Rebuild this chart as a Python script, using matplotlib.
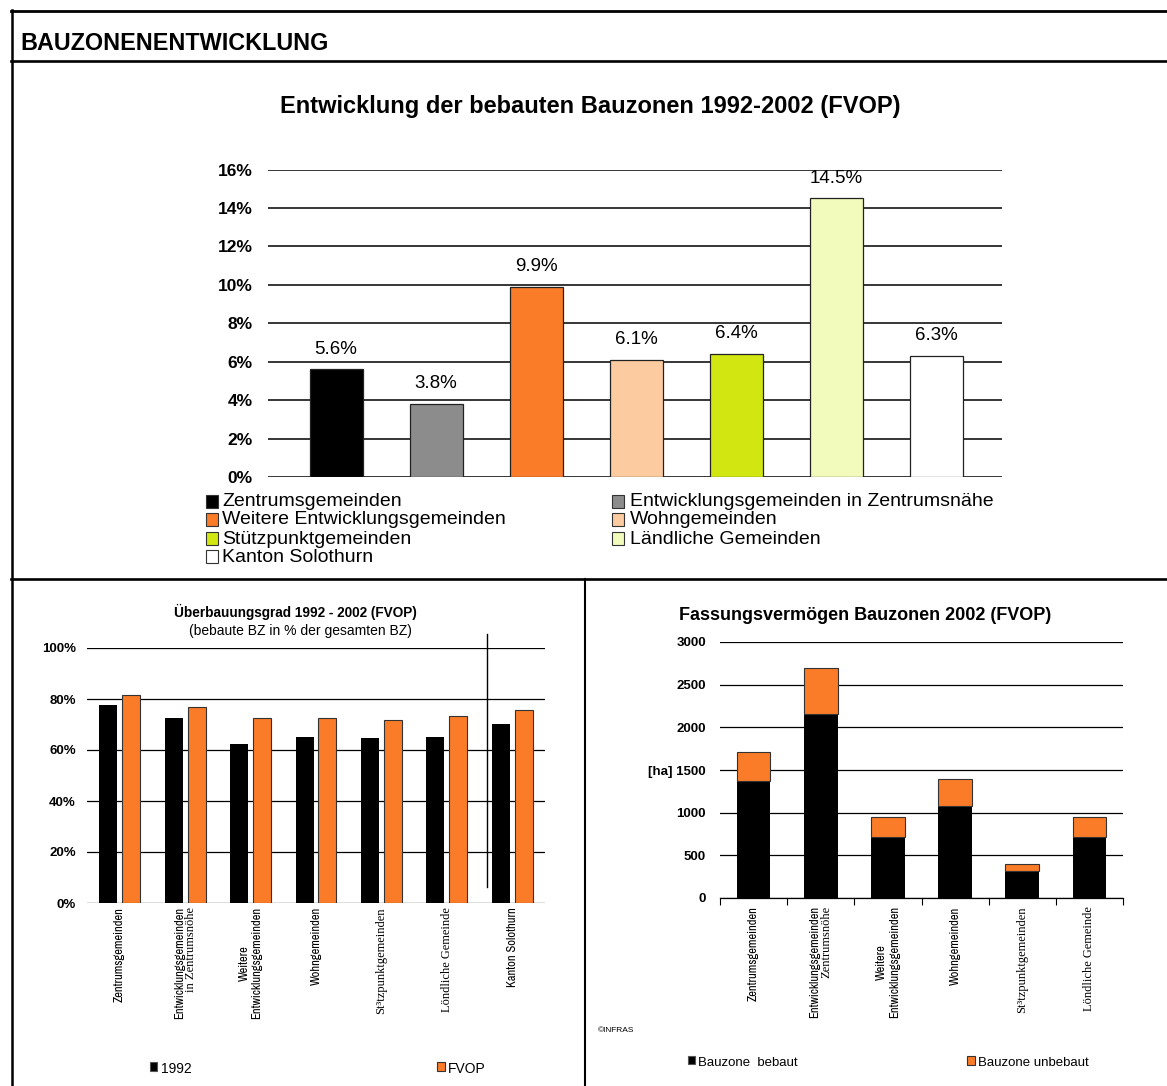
import numpy as np
import matplotlib.pyplot as plt
from matplotlib import font_manager
from matplotlib.patches import Rectangle

W, H = 1167, 1086

# Entwicklung der bebauten Bauzonen 1992-2002 (in %)
gruppen = ["Zentrumsgemeinden", "Entwicklungsgemeinden in Zentrumsnähe",
           "Weitere Entwicklungsgemeinden", "Wohngemeinden",
           "Stützpunktgemeinden", "Ländliche Gemeinden", "Kanton Solothurn"]
entwicklung = [5.6, 3.8, 9.9, 6.1, 6.4, 14.5, 6.3]
farben = ["#000000", "#8c8c8c", "#fa7b28", "#fccba0", "#d2e612", "#f2fbbb", "#ffffff"]

# Überbauungsgrad (bebaute BZ in % der gesamten BZ)
ueb_ticks = [["Zentrumsgemeinden"], ["Entwicklungsgemeinden", "in Zentrumsnöhe"],
             ["Weitere\nEntwicklungsgemeinden"], ["Wohngemeinden"],
             ["St³tzpunktgemeinden"], ["Löndliche Gemeinde"], ["Kanton Solothurn"]]
ueb_1992 = [77.6, 72.6, 62.3, 65.1, 64.7, 65.1, 70.2]
ueb_fvop = [81.7, 76.7, 72.5, 72.5, 71.7, 73.2, 75.6]

# Fassungsvermögen Bauzonen 2002 [ha]
fass_ticks = [["Zentrumsgemeinden"], ["Entwicklungsgemeinden", "Zentrumsnöhe"],
              ["Weitere\nEntwicklungsgemeinden"], ["Wohngemeinden"],
              ["St³tzpunktgemeinden"], ["Löndliche Gemeinde"]]
fass_bebaut = [1375, 2155, 717, 1075, 312, 717]
fass_unbebaut = [335, 545, 234, 324, 85, 234]

serif_zeilen = {"in Zentrumsnöhe", "Zentrumsnöhe", "St³tzpunktgemeinden", "Löndliche Gemeinde"}

orange = "#fa7b28"

names = sorted({f.name for f in font_manager.fontManager.ttflist})
schmal = [n for n in names if "Narrow" in n or "Condensed" in n]
if schmal:
    narrow, narrow_size = schmal[0], 9
else:
    narrow, narrow_size = "Liberation Sans", 7.2
serif = "Liberation Serif" if "Liberation Serif" in names else "DejaVu Serif"

plt.rcParams["font.family"] = ["Liberation Sans", "DejaVu Sans"]

fig = plt.figure(figsize=(W / 100, H / 100), dpi=100)


def px_ax(x0, y0, x1, y1):
    a = fig.add_axes([x0 / W, 1 - y1 / H, (x1 - x0) / W, (y1 - y0) / H])
    a.patch.set_visible(False)
    return a


# Rahmen und Texte in Pixelkoordinaten
bg = fig.add_axes([0, 0, 1, 1])
bg.set_xlim(0, W)
bg.set_ylim(H, 0)
bg.axis("off")
bg.plot([12, 12], [10, H], color="black", lw=1.8)
bg.plot([11, W], [10.5, 10.5], color="black", lw=2.0)
bg.plot([11, W], [61, 61], color="black", lw=1.9)
bg.plot([11, W], [579, 579], color="black", lw=1.9)
bg.plot([585, 585], [579, H], color="black", lw=1.5)
bg.text(20, 44, "BAUZONENENTWICKLUNG", fontsize=16.8, fontweight="bold", va="center")
bg.text(590, 107, "Entwicklung der bebauten Bauzonen 1992-2002 (FVOP)",
        fontsize=17, fontweight="bold", ha="center", va="center")

# Legende oben (zeilenweise)
leg_x = [(206, 222), (612, 630)]
leg_y = [502, 520, 539, 557]
for i, (name, col) in enumerate(zip(gruppen, farben)):
    sx, tx = leg_x[i % 2]
    y = leg_y[i // 2]
    bg.add_patch(Rectangle((sx, y - 7), 12, 13, facecolor=col, edgecolor="#333333", lw=0.8))
    bg.text(tx, y, name, fontsize=14, va="center")

# ---- Oberes Diagramm ----
ax1 = px_ax(268, 169.5, 1002, 477)
x1 = np.arange(len(gruppen))
ax1.bar(x1, entwicklung, width=0.53, color=farben, edgecolor="#222222", linewidth=0.9, zorder=3)
ax1.set_xlim(-0.68, 6.66)
ax1.set_ylim(0, 16)
ax1.set_yticks(range(0, 17, 2))
ax1.set_yticklabels([f"{v}%" for v in range(0, 17, 2)], fontsize=12.5, fontweight="bold")
ax1.set_xticks([])
ax1.tick_params(length=0, pad=11)
for s in ax1.spines.values():
    s.set_visible(False)
ax1.set_axisbelow(True)
ax1.grid(axis="y", color="black", lw=1.1)
for xi, v in zip(x1, entwicklung):
    ax1.annotate(f"{v:.1f}%", (xi, v), xytext=(0, 14.5), textcoords="offset points",
                 ha="center", va="center", fontsize=13.5)


def rot_labels(ax, ticks, y_top, abstand=12):
    for xi, zeilen in enumerate(ticks):
        n = len(zeilen)
        for j, z in enumerate(zeilen):
            dx = (j - (n - 1) / 2) * abstand * 0.72
            if z in serif_zeilen:
                kw = dict(family=serif, fontsize=9)
            else:
                kw = dict(family=narrow, fontsize=narrow_size, fontweight="bold")
            ax.annotate(z, (xi, 0), xycoords=("data", "axes fraction"),
                        xytext=(dx, -y_top), textcoords="offset points",
                        rotation=90, ha="center", va="top", multialignment="center", **kw)


# ---- Unten links: Überbauungsgrad ----
ax2 = px_ax(87, 648, 545, 903)
x2 = np.arange(len(ueb_1992))
ax2.bar(x2 - 0.175, ueb_1992, 0.275, color="black", zorder=3)
ax2.bar(x2 + 0.175, ueb_fvop, 0.275, color=orange, edgecolor="#333333", linewidth=0.8, zorder=3)
ax2.set_xlim(-0.5, 6.5)
ax2.set_ylim(0, 100)
ax2.set_yticks(range(0, 101, 20))
ax2.set_yticklabels([f"{v}%" for v in range(0, 101, 20)], fontsize=9.5, fontweight="bold")
ax2.set_xticks([])
ax2.tick_params(length=0, pad=8)
for s in ax2.spines.values():
    s.set_visible(False)
ax2.set_axisbelow(True)
ax2.grid(axis="y", color="black", lw=0.9)
ax2.plot([5.62, 5.62], [6.4, 105.4], color="black", lw=1.0, clip_on=False)
rot_labels(ax2, ueb_ticks, 3)
bg.text(295, 612, "Überbauungsgrad 1992 - 2002 (FVOP)", fontsize=9.8, fontweight="bold",
        ha="center", va="center")
bg.text(300, 631, "(bebaute BZ in % der gesamten BZ)", fontsize=10, ha="center", va="center")
bg.add_patch(Rectangle((150, 1062), 7, 9, facecolor="black", edgecolor="#555555", lw=0.8))
bg.text(161, 1069, "1992", fontsize=10, va="center")
bg.add_patch(Rectangle((437, 1062), 8, 9, facecolor=orange, edgecolor="#333333", lw=0.8))
bg.text(448, 1069, "FVOP", fontsize=10, va="center")

# ---- Unten rechts: Fassungsvermögen ----
ax3 = px_ax(720, 642, 1123, 898)
x3 = np.arange(len(fass_bebaut))
ax3.bar(x3, fass_bebaut, 0.5, color="black", zorder=3)
ax3.bar(x3, fass_unbebaut, 0.5, bottom=fass_bebaut, color=orange,
        edgecolor="#333333", linewidth=0.8, zorder=3)
ax3.set_xlim(-0.5, 5.5)
ax3.set_ylim(0, 3000)
ax3.set_yticks(range(0, 3001, 500))
ax3.set_yticklabels(["[ha] 1500" if v == 1500 else str(v) for v in range(0, 3001, 500)],
                    fontsize=9.5, fontweight="bold")
ax3.set_xticks(np.arange(-0.5, 5.6, 1.0))
ax3.set_xticklabels([])
ax3.tick_params(axis="y", length=0, pad=10)
ax3.tick_params(axis="x", length=5, width=0.8, direction="out")
for k in ["top", "left", "right"]:
    ax3.spines[k].set_visible(False)
ax3.spines["bottom"].set_linewidth(0.9)
ax3.set_axisbelow(True)
ax3.grid(axis="y", color="black", lw=0.9)
rot_labels(ax3, fass_ticks, 6)
bg.text(865, 616, "Fassungsvermögen Bauzonen 2002 (FVOP)", fontsize=13, fontweight="bold",
        ha="center", va="center")
bg.text(598, 1030, "©INFRAS", fontsize=6, va="center")
bg.add_patch(Rectangle((688, 1056), 7, 8, facecolor="black", edgecolor="#555555", lw=0.8))
bg.text(698, 1063, "Bauzone  bebaut", fontsize=9.5, va="center")
bg.add_patch(Rectangle((967, 1056), 8, 9, facecolor=orange, edgecolor="#333333", lw=0.8))
bg.text(978, 1063, "Bauzone unbebaut", fontsize=9.5, va="center")

fig.savefig("out.png", dpi=100)
